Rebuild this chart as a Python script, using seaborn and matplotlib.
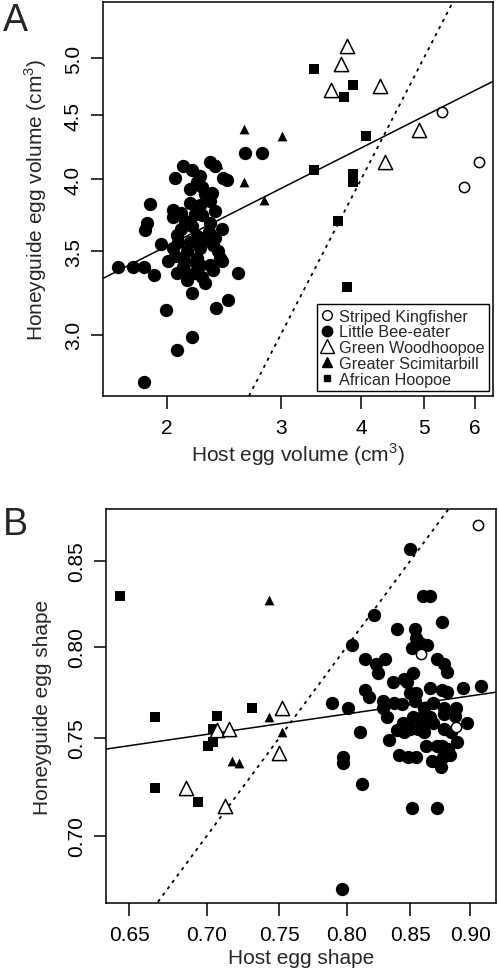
import numpy as np
import matplotlib
matplotlib.use('Agg')
import matplotlib.pyplot as plt
from matplotlib.ticker import NullLocator
from matplotlib.lines import Line2D
import seaborn as sns

species = ['Striped Kingfisher', 'Little Bee-eater', 'Green Woodhoopoe',
           'Greater Scimitarbill', 'African Hoopoe']

# --- panel A: egg volume (cm3), host vs honeyguide ---
kingfisher_host_vol = [5.34, 6.09, 5.77]
kingfisher_hg_vol = [4.53, 4.13, 3.94]

beeeater_host_vol = [1.68, 1.77, 1.84, 1.91, 1.84, 1.99, 2.07, 2.19, 2.19, 2.38,
                     2.49, 2.58, 1.88, 1.86, 1.85, 1.96, 2.06, 2.12, 2.19, 2.33,
                     2.37, 2.44, 2.48, 2.64, 2.81, 2.25, 2.23, 2.27, 2.35, 2.33,
                     2.17, 2.04, 2.04, 2.10, 2.25, 2.27, 2.33, 2.43, 2.10, 2.07,
                     2.19, 2.23, 2.36, 2.40, 2.42, 2.04, 2.06, 2.15, 2.25, 2.23,
                     2.21, 2.12, 2.33, 2.07, 2.15, 2.13, 2.25, 2.27, 2.36, 2.43,
                     2.29, 2.21, 2.29, 2.17, 2.13, 2.32, 2.37, 2.12, 2.29, 2.21,
                     2.17, 2.37, 2.08, 2.01]
beeeater_hg_vol = [3.40, 3.40, 3.40, 3.35, 2.75, 3.14, 2.92, 2.99, 3.24, 3.15,
                   3.20, 3.36, 3.82, 3.69, 3.64, 3.55, 4.01, 4.10, 4.07, 4.13,
                   4.10, 4.01, 3.99, 4.20, 4.20, 4.02, 3.98, 3.94, 3.90, 3.84,
                   3.83, 3.78, 3.73, 3.76, 3.81, 3.74, 3.69, 3.65, 3.65, 3.61,
                   3.67, 3.60, 3.54, 3.50, 3.46, 3.52, 3.47, 3.50, 3.52, 3.46,
                   3.43, 3.40, 3.41, 3.36, 3.32, 3.37, 3.41, 3.34, 3.38, 3.44,
                   3.89, 3.75, 3.58, 3.56, 3.70, 3.63, 3.77, 3.45, 3.30, 3.36,
                   3.93, 3.59, 3.56, 3.44]

woodhoopoe_host_vol = [3.80, 3.72, 3.59, 4.28, 4.92, 4.35]
woodhoopoe_hg_vol = [5.11, 4.95, 4.71, 4.75, 4.38, 4.13]

scimitarbill_host_vol = [2.63, 3.02, 2.63, 2.83, 2.40]
scimitarbill_hg_vol = [4.39, 4.33, 3.98, 3.85, 4.11]

hoopoe_host_vol = [3.38, 3.89, 3.76, 4.07, 3.38, 3.89, 3.89, 3.68, 3.80]
hoopoe_hg_vol = [4.90, 4.76, 4.65, 4.33, 4.07, 4.04, 3.98, 3.70, 3.28]

# --- panel B: egg shape, host vs honeyguide ---
kingfisher_host_shape = [0.907, 0.859, 0.888]
kingfisher_hg_shape = [0.872, 0.796, 0.756]

beeeater_host_shape = [0.850, 0.860, 0.866, 0.821, 0.839, 0.854, 0.855, 0.876, 0.804, 0.858,
                       0.864, 0.851, 0.814, 0.830, 0.823, 0.824, 0.872, 0.878, 0.880, 0.852,
                       0.845, 0.847, 0.836, 0.814, 0.817, 0.866, 0.876, 0.880, 0.894, 0.909,
                       0.789, 0.801, 0.828, 0.828, 0.837, 0.843, 0.850, 0.855, 0.854, 0.861,
                       0.869, 0.878, 0.888, 0.831, 0.852, 0.861, 0.866, 0.878, 0.887, 0.897,
                       0.810, 0.839, 0.850, 0.861, 0.869, 0.878, 0.884, 0.889, 0.833, 0.845,
                       0.844, 0.863, 0.876, 0.881, 0.883, 0.877, 0.841, 0.848, 0.855, 0.868,
                       0.875, 0.797, 0.797, 0.812, 0.851, 0.872, 0.796, 0.856, 0.860, 0.872]
beeeater_hg_shape = [0.857, 0.829, 0.829, 0.818, 0.810, 0.810, 0.805, 0.814, 0.801, 0.802,
                     0.801, 0.799, 0.793, 0.793, 0.790, 0.785, 0.793, 0.790, 0.786, 0.785,
                     0.782, 0.780, 0.780, 0.776, 0.772, 0.777, 0.776, 0.775, 0.777, 0.778,
                     0.769, 0.766, 0.770, 0.766, 0.769, 0.768, 0.774, 0.774, 0.770, 0.766,
                     0.769, 0.766, 0.766, 0.761, 0.761, 0.763, 0.761, 0.763, 0.762, 0.758,
                     0.753, 0.754, 0.755, 0.753, 0.758, 0.755, 0.753, 0.748, 0.749, 0.753,
                     0.758, 0.746, 0.746, 0.744, 0.741, 0.740, 0.741, 0.740, 0.740, 0.738,
                     0.735, 0.740, 0.737, 0.726, 0.714, 0.714, 0.674, 0.755, 0.758, 0.746]

woodhoopoe_host_shape = [0.707, 0.715, 0.686, 0.712, 0.752, 0.750]
woodhoopoe_hg_shape = [0.754, 0.755, 0.724, 0.715, 0.766, 0.742]

scimitarbill_host_shape = [0.743, 0.743, 0.717, 0.722, 0.752]
scimitarbill_hg_shape = [0.827, 0.761, 0.738, 0.737, 0.753]

hoopoe_host_shape = [0.644, 0.666, 0.707, 0.704, 0.701, 0.704, 0.666, 0.694, 0.731]
hoopoe_hg_shape = [0.829, 0.761, 0.762, 0.755, 0.746, 0.748, 0.724, 0.717, 0.766]

# fitted lines (log10 y = a + b log10 x)
vol_fit = (0.4696, 0.2614)
shape_fit = (-0.1071, 0.1079)

vol_xticks = [2, 3, 4, 5, 6]
vol_yticks = [3.0, 3.5, 4.0, 4.5, 5.0]
shape_xticks = [0.65, 0.70, 0.75, 0.80, 0.85, 0.90]
shape_yticks = [0.70, 0.75, 0.80, 0.85]

# marker look per species (bee-eater drawn first so open symbols sit on top)
styles = {
    'Little Bee-eater': dict(marker='o', s=92, color='black', edgecolor='black', linewidth=0),
    'Greater Scimitarbill': dict(marker='^', s=50, color='black', edgecolor='black', linewidth=0),
    'African Hoopoe': dict(marker='s', s=45, color='black', edgecolor='black', linewidth=0),
    'Green Woodhoopoe': dict(marker='^', s=105, color='white', edgecolor='black', linewidth=1.1),
    'Striped Kingfisher': dict(marker='o', s=55, color='white', edgecolor='black', linewidth=1.1),
}
draw_order = ['Little Bee-eater', 'Greater Scimitarbill', 'African Hoopoe',
              'Green Woodhoopoe', 'Striped Kingfisher']

sns.set_theme(style='ticks')
plt.rcParams['font.family'] = ['Liberation Sans', 'DejaVu Sans']
plt.rcParams['mathtext.fontset'] = 'custom'
plt.rcParams['mathtext.rm'] = 'Liberation Sans'

fig = plt.figure(figsize=(4.99, 9.79), dpi=100)
ax_a = fig.add_axes([0.2064, 0.5945, 0.7816, 0.4025])
ax_b = fig.add_axes([0.2124, 0.0766, 0.7816, 0.4025])


def draw_panel(ax, data, fit, xlim, ylim, xticks, xlabs, yticks, ylabs, xlabel, ylabel):
    for sp in draw_order:
        x, y = data[sp]
        sns.scatterplot(x=x, y=y, ax=ax, zorder=3, **styles[sp])
    ax.set_xscale('log')
    ax.set_yscale('log')
    # regression line and 1:1 line
    xs = np.geomspace(xlim[0], xlim[1], 100)
    ax.plot(xs, 10 ** (fit[0] + fit[1] * np.log10(xs)), color='black', lw=1.1, zorder=2)
    ax.plot(xs, xs, color='black', lw=1.3, ls=(0, (1.8, 2.6)), zorder=2)
    ax.set_xlim(xlim)
    ax.set_ylim(ylim)
    ax.set_xticks(xticks, xlabs)
    ax.set_yticks(yticks, ylabs, rotation=90, va='center')
    ax.xaxis.set_minor_locator(NullLocator())
    ax.yaxis.set_minor_locator(NullLocator())
    ax.tick_params(axis='both', length=9, width=1.1, labelsize=15, colors='black')
    ax.tick_params(axis='x', pad=7)
    ax.tick_params(axis='y', pad=5.5)
    for sp in ax.spines.values():
        sp.set_visible(True)
        sp.set_linewidth(1.1)
        sp.set_color('black')
    ax.set_xlabel(xlabel, fontsize=15, labelpad=2.5)
    ax.set_ylabel(ylabel, fontsize=15, labelpad=11)


vol_data = {
    'Striped Kingfisher': (kingfisher_host_vol, kingfisher_hg_vol),
    'Little Bee-eater': (beeeater_host_vol, beeeater_hg_vol),
    'Green Woodhoopoe': (woodhoopoe_host_vol, woodhoopoe_hg_vol),
    'Greater Scimitarbill': (scimitarbill_host_vol, scimitarbill_hg_vol),
    'African Hoopoe': (hoopoe_host_vol, hoopoe_hg_vol),
}
shape_data = {
    'Striped Kingfisher': (kingfisher_host_shape, kingfisher_hg_shape),
    'Little Bee-eater': (beeeater_host_shape, beeeater_hg_shape),
    'Green Woodhoopoe': (woodhoopoe_host_shape, woodhoopoe_hg_shape),
    'Greater Scimitarbill': (scimitarbill_host_shape, scimitarbill_hg_shape),
    'African Hoopoe': (hoopoe_host_shape, hoopoe_hg_shape),
}

draw_panel(ax_a, vol_data, vol_fit, (1.592, 6.40), (2.68, 5.546),
           vol_xticks, [str(t) for t in vol_xticks],
           vol_yticks, ['{:.1f}'.format(t) for t in vol_yticks],
           r'Host egg volume (cm$^{\mathrm{3}}$)', r'Honeyguide egg volume (cm$^{\mathrm{3}}$)')

draw_panel(ax_b, shape_data, shape_fit, (0.6357, 0.9225), (0.6675, 0.8817),
           shape_xticks, ['{:.2f}'.format(t) for t in shape_xticks],
           shape_yticks, ['{:.2f}'.format(t) for t in shape_yticks],
           'Host egg shape', 'Honeyguide egg shape')

# legend for panel A
handles = [
    Line2D([], [], ls='none', marker='o', ms=7, mfc='white', mec='black', mew=1.0),
    Line2D([], [], ls='none', marker='o', ms=7.5, mfc='black', mec='black'),
    Line2D([], [], ls='none', marker='^', ms=10, mfc='white', mec='black', mew=1.0),
    Line2D([], [], ls='none', marker='^', ms=7, mfc='black', mec='black'),
    Line2D([], [], ls='none', marker='s', ms=5, mfc='black', mec='black'),
]
leg = ax_a.legend(handles, species, loc='lower right', bbox_to_anchor=(0.99, 0.013),
                  borderaxespad=0, fontsize=11.7, frameon=True, fancybox=False,
                  edgecolor='black', framealpha=1, handlelength=0.8,
                  handletextpad=0.35, labelspacing=0.05, borderpad=0.25)
leg.get_frame().set_linewidth(1.0)

fig.text(0.006, 0.997, 'A', fontsize=27, va='top', ha='left')
fig.text(0.006, 1 - 507 / 979, 'B', fontsize=27, va='top', ha='left')

fig.savefig('out.png', dpi=100)
